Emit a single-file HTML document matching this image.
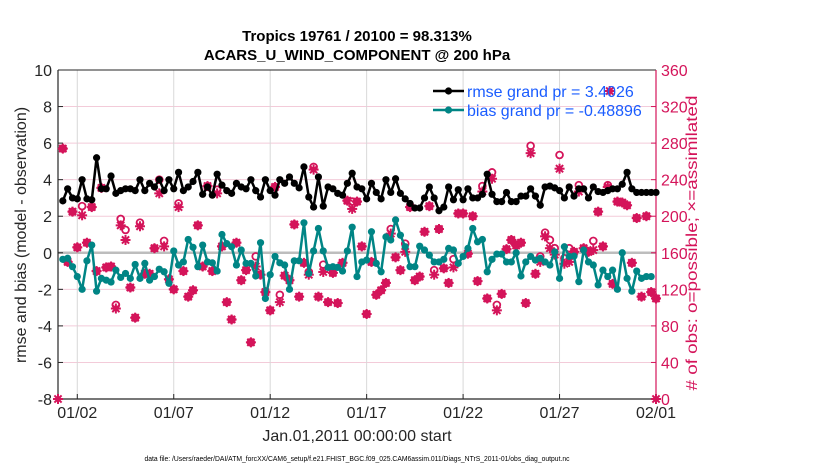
<!DOCTYPE html>
<html><head><meta charset="utf-8"><style>
html,body{margin:0;padding:0;background:#fff;}
svg{display:block;font-family:"Liberation Sans",sans-serif;}
</style></head><body>
<svg id="chart" width="830" height="470" viewBox="0 0 830 470" xmlns="http://www.w3.org/2000/svg">
<g id="grid"></g>
<g id="axes"></g>
<g id="series"></g>
<text x="357" y="41" text-anchor="middle" font-size="15" font-weight="bold" fill="#000">Tropics 19761 / 20100 = 98.313%</text>
<text x="357" y="60" text-anchor="middle" font-size="15" font-weight="bold" fill="#000">ACARS_U_WIND_COMPONENT @ 200 hPa</text>
<text x="357" y="441" text-anchor="middle" font-size="16" fill="#262626">Jan.01,2011 00:00:00 start</text>
<text transform="translate(26,235) rotate(-90)" text-anchor="middle" font-size="16" fill="#262626">rmse and bias (model - observation)</text>
<text transform="translate(697,243) rotate(-90)" text-anchor="middle" font-size="16" fill="#d4145a" textLength="295" lengthAdjust="spacingAndGlyphs"># of obs: o=possible; ×=assimilated</text>
<text x="357" y="461" text-anchor="middle" font-size="7" fill="#000" textLength="425" lengthAdjust="spacingAndGlyphs">data file: /Users/raeder/DAI/ATM_forcXX/CAM6_setup/f.e21.FHIST_BGC.f09_025.CAM6assim.011/Diags_NTrS_2011-01/obs_diag_output.nc</text>
<g id="legend"></g>
</svg>
<script>
const rmse=[2.84,3.5,3.0,2.95,4.0,2.95,2.9,5.2,3.5,3.5,4.2,3.25,3.4,3.5,3.5,3.4,4.0,3.4,3.8,3.6,4.0,3.4,4.0,3.5,4.4,3.4,3.6,3.9,4.4,3.2,3.6,3.15,4.3,3.7,3.4,3.25,3.8,3.6,3.5,4.0,3.4,3.05,4.0,3.4,3.15,4.0,3.8,4.15,3.8,3.55,4.7,3.05,2.5,4.15,2.55,3.6,3.5,3.25,3.15,3.8,4.35,
3.6,3.5,2.95,3.8,3.3,2.95,4.0,3.3,4.05,3.25,2.95,2.7,2.45,2.45,3.0,3.6,3.0,2.3,2.5,3.6,2.9,3.45,2.9,3.5,3.0,3.0,3.2,4.3,3.2,2.8,2.8,3.3,2.8,2.8,3.1,3.1,3.5,3.1,2.6,3.6,3.65,3.55,3.4,3.0,3.6,3.1,3.5,3.5,3.0,3.6,3.35,3.3,3.4,3.5,3.5,3.75,4.4,3.5,3.3,3.3,3.3,3.3,3.3];
const bias=[-0.36,-0.3,-0.76,-1.3,-2.0,-0.44,0.42,-2.1,-1.4,-1.5,-1.6,-0.95,-1.35,-1.13,-1.4,-0.64,-1.4,-0.58,-1.5,-1.3,-0.9,-1.04,-1.67,0.1,-0.67,-0.5,0.73,0.3,-0.76,0.42,-0.5,-0.55,-1.0,1.0,0.5,0.33,-0.67,0.15,-0.58,-0.58,-1.27,0.55,-2.5,-1.2,-0.2,-0.55,-0.67,-2.0,-0.44,-0.44,1.64,-1.13,0.1,1.33,0.1,-0.8,-0.76,-0.8,-1.0,0.1,1.4,
-1.3,-0.5,-0.4,1.15,-0.58,-1.04,0.87,0.7,1.8,0.96,0.33,-0.76,-0.76,0.36,0.15,-0.13,-0.5,-0.5,-0.36,0.24,0.15,-0.58,-0.2,0.24,1.33,0.6,0.73,-1.04,-0.36,-0.07,-0.07,-0.5,-0.5,0,-1.27,-0.5,-0.2,-0.4,-0.3,-0.5,-0.67,0.05,-1.4,0.33,-0.2,-0.18,-1.58,0.15,-0.5,-0.67,-1.76,-0.95,-1.3,-0.95,-2.0,0,-1.4,-2.1,-1.0,-1.4,-1.3,-1.3];
const assimilated=[274,150,205,166,201,171,210,140,231,144,145,99,190,174,122,89,189,137,137,165,225,167,131,120,210,140,112,119,190,145,233,140,225,167,106,87,171,130,141,62,145,
136,117,97,232,106,135,130,191,112,149,136,251,112,139,106,138,105,149,217,208,216,167,93,150,114,119,127,181,155,141,161,210,130,134,183,211,136,186,143,127,144,203,
203,159,200,129,227,110,241,97,115,164,174,168,171,105,269,137,150,178,165,158,252,148,150,161,227,165,161,163,205,167,232,126,216,215,212,149,198,112,200,117,110];
const possible=[274,150,205,166,211,171,210,140,231,144,145,103,197,185,122,89,193,137,137,165,240,173,131,120,214,140,112,119,190,145,233,140,229,167,106,87,171,130,141,62,156,
136,117,97,232,114,135,130,191,112,149,139,254,112,147,106,138,105,149,217,216,216,167,93,150,114,119,127,186,155,141,170,210,130,134,183,211,141,186,143,127,153,203,
203,159,200,129,233,110,248,103,115,164,174,168,171,105,277,137,156,182,174,165,267,154,165,161,234,165,161,173,205,167,234,126,216,215,212,149,198,112,200,117,110];
const edgeDays=[0,31];
const edgeCounts=[0,0];
const extraDays=[28.6];
const extraCounts=[337];
const leftTicks=[10,8,6,4,2,0,-2,-4,-6,-8];
const rightTicks=[360,320,280,240,200,160,120,80,40,0];
const xTickDays=[1,6,11,16,21,26,31];
const xTickLabels=["01/02","01/07","01/12","01/17","01/22","01/27","02/01"];

const NS="http://www.w3.org/2000/svg";
const X0=58,X1=656,Y0=70,Y1=399;
const xS=d=>X0+d*(X1-X0)/31;
const yL=v=>Y0+(10-v)*(Y1-Y0)/18;
const yR=c=>Y1-c*(Y1-Y0)/360;
const PINK="#d4145a",TEAL="#008585";
function mk(tag,attrs,parent){const e=document.createElementNS(NS,tag);for(const k in attrs)e.setAttribute(k,attrs[k]);parent.appendChild(e);return e;}
const grid=document.getElementById('grid'),axes=document.getElementById('axes'),ser=document.getElementById('series'),leg=document.getElementById('legend');

leftTicks.forEach(v=>{
  const l=mk('line',{x1:X0,x2:X1,y1:yL(v),y2:yL(v),stroke:'#f3cbd9','stroke-width':1},grid);
  
  
  const t=mk('line',{x1:X0,x2:X0+5,y1:yL(v),y2:yL(v),stroke:'#262626','stroke-width':1},axes);
  
  
  const tx=mk('text',{x:X0-6,y:yL(v)+6,'text-anchor':'end','font-size':16,fill:'#262626'},axes);
  tx.textContent=v;
  
  
});
rightTicks.forEach(c=>{
  const t=mk('line',{x1:X1-5,x2:X1,y1:yR(c),y2:yR(c),stroke:PINK,'stroke-width':1},axes);
  
  
  const tx=mk('text',{x:X1+5,y:yR(c)+6,'font-size':16,fill:PINK},axes);
  tx.textContent=c;
  
  
});
xTickDays.forEach((d,i)=>{
  const g=mk('line',{x1:xS(d),x2:xS(d),y1:Y0,y2:Y1,stroke:'#d8d8d8','stroke-width':1},grid);
  
  
  const t=mk('line',{x1:xS(d),x2:xS(d),y1:Y1-5,y2:Y1,stroke:'#262626'},axes);
  
  
  const tx=mk('text',{x:xS(d),y:Y1+19,'text-anchor':'middle','font-size':16,fill:'#262626'},axes);
  tx.textContent=xTickLabels[i];
  
  
});
const zl=mk('line',{x1:X0,x2:X1,y1:yL(0),y2:yL(0),stroke:'#bdbdbd','stroke-width':2.5},grid);


const la=mk('line',{x1:X0,x2:X0,y1:Y0,y2:Y1,stroke:'#262626','stroke-width':1.2},axes);


const ba=mk('line',{x1:X0,x2:X1,y1:Y1,y2:Y1,stroke:'#262626','stroke-width':1.2},axes);


const ta=mk('line',{x1:X0,x2:X1,y1:Y0,y2:Y0,stroke:'#262626','stroke-width':1},axes);


const ra=mk('line',{x1:X1,x2:X1,y1:Y0,y2:Y1,stroke:PINK,'stroke-width':1.2},axes);



const dayOf=i=>0.25*(i+1);
function star(x,y,parent){
  const g=mk('g',{stroke:PINK,'stroke-width':2},parent);
  [[5,0],[0,5],[3.6,3.6],[3.6,-3.6]].forEach(([dx,dy])=>mk('line',{x1:x-dx,y1:y-dy,x2:x+dx,y2:y+dy},g));
  return g;
}
const gCnt=mk('g',{},ser);


possible.forEach((c,i)=>{
  const e=mk('circle',{cx:xS(dayOf(i)),cy:yR(c),r:3.4,fill:'#fff',stroke:PINK,'stroke-width':1.8},gCnt);
  
  
});
assimilated.forEach((c,i)=>{
  const e=star(xS(dayOf(i)),yR(c),gCnt);
  
  
  const d=mk('circle',{cx:xS(dayOf(i)),cy:yR(c),r:2.8,fill:PINK},gCnt);
  
  
});
edgeDays.concat(extraDays).forEach((d,i)=>{
  const c=edgeCounts.concat(extraCounts)[i];
  const e=star(xS(d),yR(c),gCnt);
  
  
  const p=mk('circle',{cx:xS(d),cy:yR(c),r:3,fill:PINK},gCnt);
  
  
});

function lineSeries(arr,color,name){
  const g=mk('g',{},ser);
  
  
  const pts=arr.map((v,i)=>xS(dayOf(i)).toFixed(1)+','+yL(v).toFixed(1)).join(' ');
  const pl=mk('polyline',{points:pts,fill:'none',stroke:color,'stroke-width':2.5,'stroke-linejoin':'round'},g);
  
  
  arr.forEach((v,i)=>{
    const c=mk('circle',{cx:xS(dayOf(i)),cy:yL(v),r:3.6,fill:color},g);
    
    
  });
}
lineSeries(bias,TEAL,'bias-series');
lineSeries(rmse,'#000','rmse-series');

[['#000','rmse grand pr = 3.4026',91],[TEAL,'bias grand pr = -0.48896',110]].forEach(([col,lab,y])=>{
  const g=mk('g',{},leg);
  
  
  mk('line',{x1:433,x2:464,y1:y,y2:y,stroke:col,'stroke-width':2.5},g);
  mk('circle',{cx:448.5,cy:y,r:3.6,fill:col},g);
  const t=mk('text',{x:467,y:y+6,'font-size':16,fill:'#1a5cff'},g);
  t.textContent=lab;
});
</script>
</body></html>
